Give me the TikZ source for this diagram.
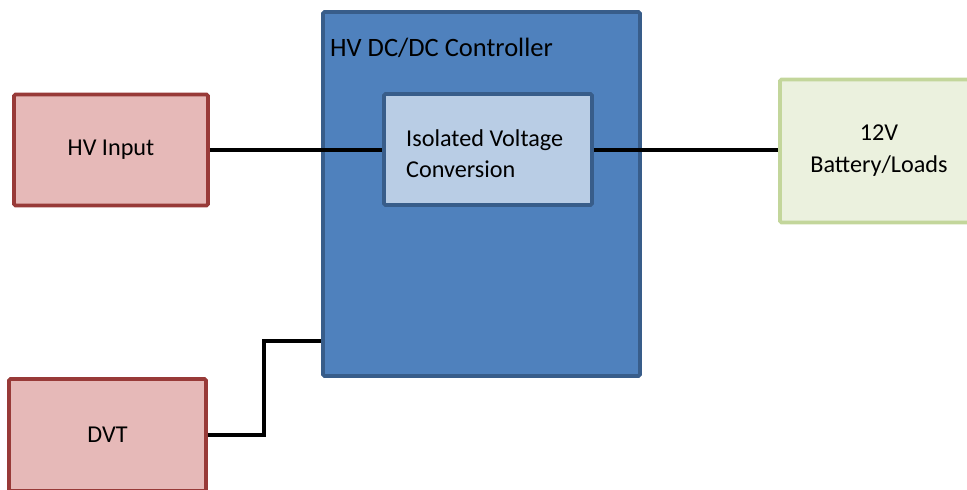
\documentclass[tikz,border=0pt]{standalone}
\usepackage{fontspec}
\setmainfont{Carlito}
\definecolor{hvpink}{HTML}{E6B9B8}
\definecolor{hvred}{HTML}{983A38}
\definecolor{ctrlblue}{HTML}{4F81BD}
\definecolor{ctrlborder}{HTML}{385D8A}
\definecolor{convfill}{HTML}{B9CDE5}
\definecolor{battfill}{HTML}{EBF1DE}
\definecolor{battborder}{HTML}{C3D69B}
\begin{document}
\begin{tikzpicture}[x=1pt,y=-1pt,
  basebox/.style={line width=3.8pt, rounded corners=1.5pt, inner sep=0pt,
    font=\fontsize{24.2}{32}\selectfont, align=center},
  pinkbox/.style={basebox, draw=hvred, fill=hvpink},
  wire/.style={line width=4pt, black}]
\useasboundingbox (0,0) rectangle (967,490);
\clip (0,0) rectangle (967,490);
\node[pinkbox, minimum width=194pt, minimum height=111pt] (hv) at (111,150) {HV Input};
\node[pinkbox, minimum width=197pt, minimum height=112pt] (dvt) at (107.5,435) {DVT};
\node[basebox, draw=ctrlborder, fill=ctrlblue, minimum width=317pt, minimum height=364pt] (ctrl) at (481.5,194) {};
\node[anchor=base west, inner sep=0pt, font=\fontsize{26.5}{31}\selectfont] (ctrltitle) at (330,56.5) {HV DC/DC Controller};
\node[basebox, draw=ctrlborder, fill=convfill, minimum width=208pt, minimum height=111pt] (conv) at (488,149.5) {};
\node[anchor=base west, inner sep=0pt, align=left, font=\fontsize{24.2}{31.5}\selectfont] (convtext) at (406,177.5) {Isolated Voltage\\Conversion};
\node[basebox, draw=battborder, fill=battfill, minimum width=198pt, minimum height=143pt] (batt) at (879,151) {12V\\Battery/Loads};
\draw[wire] (hv.east) -- (conv.west |- hv.east);
\draw[wire] (conv.east) -- (batt.west |- conv.east);
\coordinate (j) at (264,341);
\draw[wire] (dvt.east) -| (j) -- (ctrl.west |- j);
\end{tikzpicture}
\end{document}
